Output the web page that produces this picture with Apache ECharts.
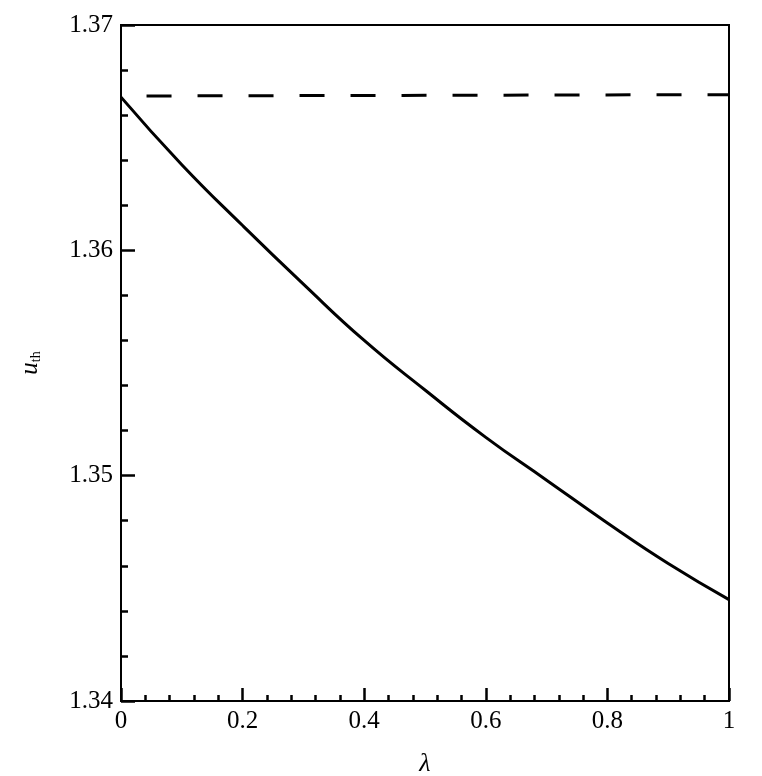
<!DOCTYPE html>
<html>
<head>
<meta charset="utf-8">
<script src="https://cdn.jsdelivr.net/npm/echarts@6/dist/echarts.min.js"></script>
<style>
  html, body { margin: 0; padding: 0; background: #fff; }
  #chart-container { width: 762px; height: 776px; }
</style>
</head>
<body>
<div id="chart-container"></div>
<script>
// values
var lambdas = [0, 0.1, 0.2, 0.3, 0.4, 0.5, 0.6, 0.7, 0.8, 0.9, 1];
var uthSolid = [1.3668, 1.3638, 1.3611, 1.3585, 1.3560, 1.3538, 1.3517, 1.3498, 1.3479, 1.3461, 1.3445];
var dashedLambda = [0.042, 1];
var uthDashed = [1.36685, 1.36691];
var xTicks = [0, 0.2, 0.4, 0.6, 0.8, 1];
var yTicks = [1.34, 1.35, 1.36, 1.37];

var dom = document.getElementById('chart-container');
var myChart = echarts.init(dom, null, { renderer: 'canvas' });

var font = '"Liberation Serif", "DejaVu Serif", serif';

var option = {
  animation: false,
  backgroundColor: '#fff',
  grid: {
    left: 121,
    right: 33,
    top: 25,
    bottom: 75,
    outerBoundsMode: 'none',
    show: true,
    borderColor: '#000',
    borderWidth: 2
  },
  xAxis: {
    type: 'value',
    min: xTicks[0],
    max: xTicks[xTicks.length - 1],
    interval: 0.2,
    name: 'λ',
    nameLocation: 'middle',
    nameGap: 50,
    nameTextStyle: { fontFamily: font, fontStyle: 'italic', fontSize: 26, color: '#000' },
    axisLine: { lineStyle: { color: '#000', width: 2 } },
    axisTick: { inside: true, length: 13, lineStyle: { color: '#000', width: 2.5 } },
    minorTick: { show: true, splitNumber: 5, length: 6, lineStyle: { color: '#000', width: 2.5 } },
    splitLine: { show: false },
    axisLabel: { fontFamily: font, fontSize: 25, color: '#000', margin: 8 }
  },
  yAxis: {
    type: 'value',
    min: yTicks[0],
    max: yTicks[yTicks.length - 1],
    interval: 0.01,
    name: '{u|u}{s|th}',
    nameLocation: 'middle',
    nameGap: 78,
    nameRotate: 90,
    nameTextStyle: {
      rich: {
        u: { fontFamily: font, fontStyle: 'italic', fontSize: 25, color: '#000', verticalAlign: 'middle' },
        s: { fontFamily: font, fontSize: 14, color: '#000', verticalAlign: 'bottom', padding: [8, 0, 0, 0] }
      }
    },
    axisLine: { lineStyle: { color: '#000', width: 2 } },
    axisTick: { inside: true, length: 14, lineStyle: { color: '#000', width: 2.5 } },
    minorTick: { show: true, splitNumber: 5, length: 7, lineStyle: { color: '#000', width: 2.5 } },
    splitLine: { show: false },
    axisLabel: {
      fontFamily: font, fontSize: 25, color: '#000', margin: 8,
      formatter: function (v) { return v.toFixed(2); }
    }
  },
  series: [
    {
      type: 'line',
      data: lambdas.map(function (x, i) { return [x, uthSolid[i]]; }),
      smooth: true,
      symbol: 'none',
      lineStyle: { color: '#000', width: 3 }
    },
    {
      type: 'line',
      data: dashedLambda.map(function (x, i) { return [x, uthDashed[i]]; }),
      symbol: 'none',
      lineStyle: { color: '#000', width: 3, type: [25, 26] }
    }
  ]
};

myChart.setOption(option);
window.addEventListener('resize', myChart.resize);
</script>
</body>
</html>
